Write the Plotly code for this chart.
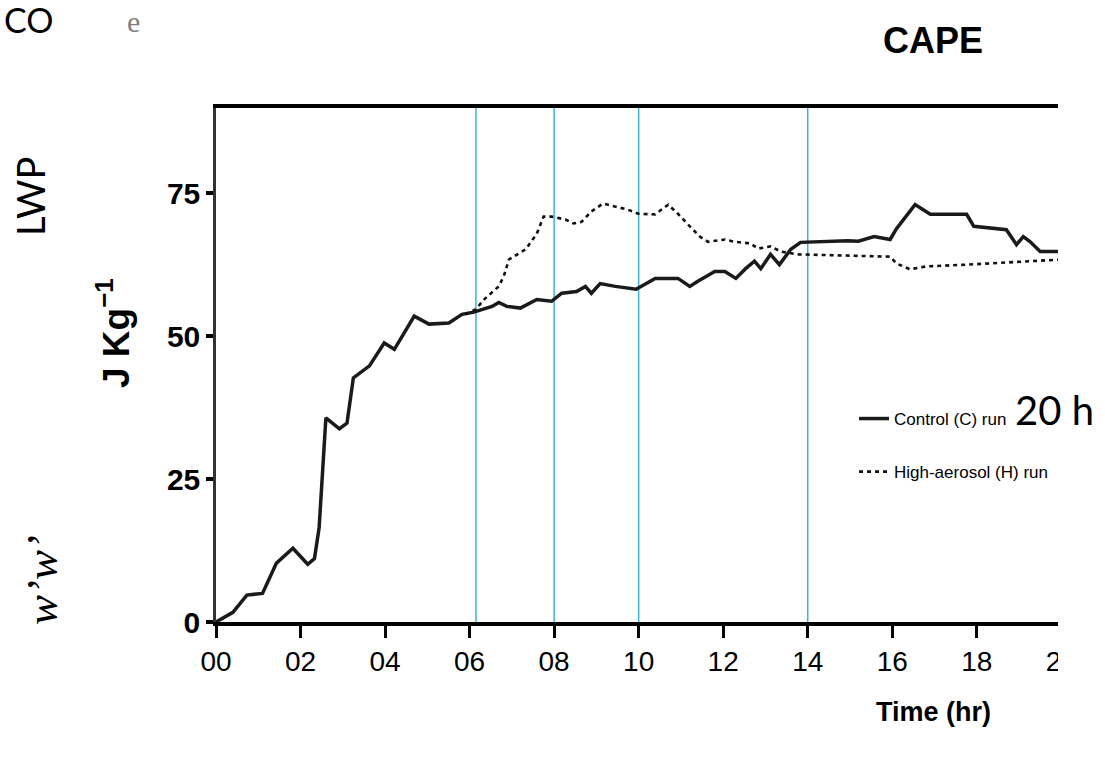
import plotly.graph_objects as go

# ---- data ----
ctrl_t = [0, 0.4, 0.73, 1.1, 1.43, 1.82, 2.17, 2.33, 2.44, 2.6, 2.92, 3.1, 3.25, 3.63,
          3.98, 4.22, 4.69, 5.04, 5.51, 5.82, 6.1, 6.53, 6.69, 6.88, 7.2, 7.59, 7.94,
          8.18, 8.53, 8.74, 8.88, 9.09, 9.45, 9.94, 10.39, 10.93, 11.21, 11.4, 11.8,
          12.04, 12.3, 12.53, 12.74, 12.89, 13.12, 13.33, 13.6, 13.83, 14.94, 15.2,
          15.57, 15.95, 16.1, 16.54, 16.9, 17.76, 17.93, 18.7, 18.94, 19.1, 19.25,
          19.5, 20.0]
ctrl_v = [0, 1.7, 4.7, 5.0, 10.3, 12.9, 10.1, 11.1, 16.5, 35.7, 33.8, 34.8, 42.7, 44.8,
          48.8, 47.7, 53.5, 52.1, 52.3, 53.8, 54.2, 55.2, 55.9, 55.2, 54.9, 56.4, 56.1,
          57.5, 57.8, 58.7, 57.5, 59.2, 58.7, 58.2, 60.1, 60.1, 58.7, 59.6, 61.3,
          61.3, 60.1, 61.8, 63.1, 61.8, 64.3, 62.5, 65.2, 66.4, 66.7, 66.6,
          67.4, 66.9, 68.8, 73.0, 71.3, 71.3, 69.2, 68.6, 66.0, 67.4, 66.6,
          64.8, 64.8]

high_t = [5.9, 6.15, 6.34, 6.69, 6.81, 6.93, 7.33, 7.59, 7.75, 7.94, 8.27, 8.46, 8.65,
          8.88, 9.16, 9.45, 9.75, 9.99, 10.39, 10.7, 10.93, 11.17, 11.45, 11.64, 12.04,
          12.27, 12.65, 12.82, 13.12, 13.36, 13.76, 15.95, 16.1, 16.42, 16.82, 17.76, 20.0]
high_v = [53.8, 54.7, 56.4, 58.7, 60.5, 63.4, 65.2, 67.9, 70.9, 70.9, 70.4, 69.7, 70.0,
          71.8, 73.2, 72.6, 72.1, 71.4, 71.3, 73.0, 71.4, 69.5, 67.4, 66.5, 66.9,
          66.5, 66.2, 65.3, 65.7, 64.8, 64.3, 63.9, 62.7, 61.7, 62.2, 62.5, 63.4]

marker_times = [6.15, 8.0, 10.0, 14.0]
x_tickvals = [0, 2, 4, 6, 8, 10, 12, 14, 16, 18, 20]
x_ticktext = ["00", "02", "04", "06", "08", "10", "12", "14", "16", "18", "20"]
y_tickvals = [0, 25, 50, 75]

# ---- layout geometry (pixels) ----
W, H = 1105, 765
L, R, T, B = 216, 1074, 108, 622
pw, ph = R - L, B - T

def px(x):
    return (x - L) / pw

def py(y):
    return (B - y) / ph

SANS = "Liberation Sans, Arial, sans-serif"
CAL = "Lato, Carlito, Calibri, sans-serif"

fig = go.Figure()
fig.add_trace(go.Scatter(x=ctrl_t, y=ctrl_v, mode="lines", name="Control (C) run",
                         legendgroup="c",
                         line=dict(color="#1a1a1a", width=3.5)))
fig.add_trace(go.Scatter(x=high_t, y=high_v, mode="lines", name="High-aerosol (H) run",
                         legendgroup="h",
                         line=dict(color="#111111", width=2.6, dash="4px,4px")))

shapes = []
for t in marker_times:
    shapes.append(dict(type="line", xref="x", yref="paper", x0=t, x1=t, y0=0, y1=1,
                       line=dict(color="#3fb3d2", width=1.5), layer="below"))
# white mask for the cropped right edge of the original picture
shapes.append(dict(type="rect", xref="paper", yref="paper", x0=px(1058), x1=1.3,
                   y0=-0.4, y1=1.1, fillcolor="white", line=dict(width=0), layer="above"))

annotations = [
    dict(text="CO", x=px(28), y=py(20), xref="paper", yref="paper", showarrow=False,
         font=dict(family=CAL, size=34, color="black"), xanchor="center", yanchor="middle"),
    dict(text="e", x=px(133), y=py(22), xref="paper", yref="paper", showarrow=False,
         font=dict(family="Liberation Serif, serif", size=30, color="#808080"),
         xanchor="center", yanchor="middle"),
    dict(text="<b>CAPE</b>", x=px(933), y=py(40), xref="paper", yref="paper", showarrow=False,
         font=dict(family=SANS, size=36, color="black"), xanchor="center", yanchor="middle"),
    dict(text="LWP", x=px(30), y=py(197), xref="paper", yref="paper", showarrow=False,
         textangle=-90, font=dict(family=CAL, size=38, color="black"),
         xanchor="center", yanchor="middle"),
    dict(text="<b>J Kg<sup>−1</sup></b>", x=px(113), y=py(333), xref="paper", yref="paper",
         showarrow=False, textangle=-90, font=dict(family=SANS, size=37, color="black"),
         xanchor="center", yanchor="middle"),
    dict(text="<i>w’w’</i>", x=px(42), y=py(580), xref="paper", yref="paper", showarrow=False,
         textangle=-90, font=dict(family="Liberation Serif, serif", size=45, color="black"),
         xanchor="center", yanchor="middle"),
    dict(text="20 h", x=px(1054), y=py(410), xref="paper", yref="paper", showarrow=False,
         font=dict(family=CAL, size=40, color="black"), xanchor="center", yanchor="middle"),
    dict(text="<b>Time (hr)</b>", x=px(933), y=py(712), xref="paper", yref="paper",
         showarrow=False, font=dict(family=SANS, size=27, color="black"),
         xanchor="center", yanchor="middle"),
]

fig.update_layout(
    width=W, height=H,
    margin=dict(l=L, r=W - R, t=T, b=H - B, pad=0),
    paper_bgcolor="white", plot_bgcolor="white",
    shapes=shapes, annotations=annotations,
    showlegend=True,
    legend=dict(x=px(854), y=py(401), xanchor="left", yanchor="top",
                bgcolor="rgba(0,0,0,0)", tracegroupgap=28,
                font=dict(family=SANS, size=17, color="black")),
    xaxis=dict(range=[0, 20.3], tickvals=x_tickvals, ticktext=x_ticktext,
               showgrid=False, zeroline=False, showline=True, linecolor="black",
               linewidth=3.5, mirror=True, ticks="outside", ticklen=12, tickwidth=2.5,
               tickcolor="black",
               tickfont=dict(family=SANS, size=28, color="black")),
    yaxis=dict(range=[0, 89.9], tickvals=y_tickvals, showgrid=False, zeroline=False,
               showline=True, linecolor="#333333", linewidth=2.5, ticks="outside",
               ticklen=7, tickwidth=3.5, tickcolor="black",
               tickfont=dict(family=SANS, size=30, color="black", weight="bold")),
)

fig.write_html("out.html",
               config={"displayModeBar": False},
               post_script="document.body.style.margin='0px';"
                           "document.body.style.overflow='hidden';")
